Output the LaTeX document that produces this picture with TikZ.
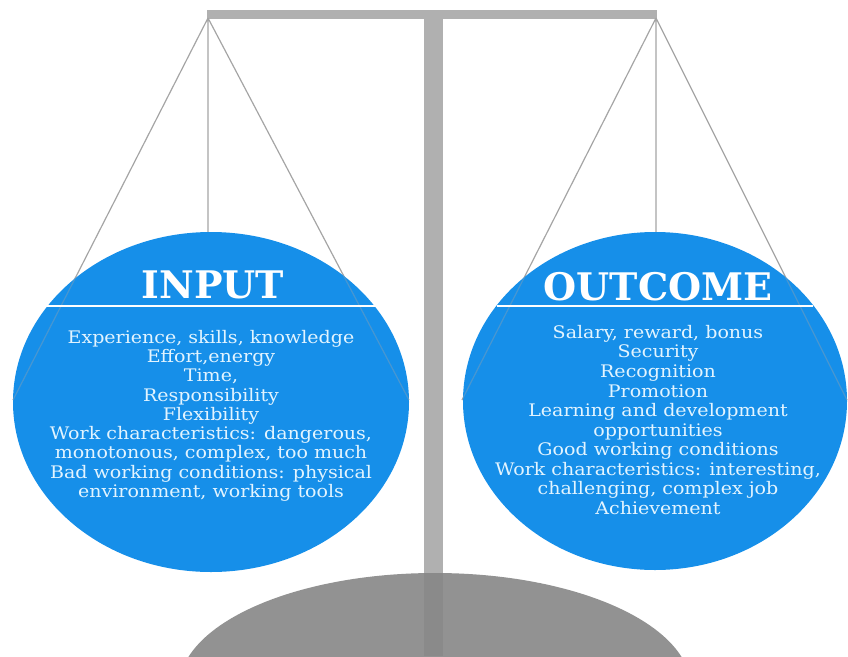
\documentclass[tikz,border=0pt]{standalone}
\usepackage{fontspec}
\setmainfont{DejaVu Serif}
\newfontfamily\bodyfont{DejaVu Serif}[FakeStretch=1.1]
\definecolor{panblue}{RGB}{22,143,233}
\definecolor{txtc}{RGB}{226,244,255}
\definecolor{postgray}{RGB}{134,134,134}
\definecolor{bargray}{RGB}{176,176,176}
\definecolor{basegray}{RGB}{146,146,146}
\definecolor{stringgray}{RGB}{165,165,165}
\tikzset{
  string/.style={draw=stringgray, line width=1.2pt},
  pan/.style={fill=panblue},
  heading/.style={text=white, font=\fontsize{38}{40}\selectfont\bfseries, inner sep=0pt, anchor=base},
  body/.style={text=txtc, font=\bodyfont\fontsize{17.3}{19}\selectfont, align=center, inner sep=0pt, anchor=north},
  divider/.style={draw=white, line width=2pt}
}
\begin{document}
\begin{tikzpicture}[x=1pt,y=-1pt]
\useasboundingbox (0,0) rectangle (848,656);
% base
\begin{scope}
\clip (0,0) rectangle (848,656);
\fill[basegray] (435,688) ellipse [x radius=256, y radius=115];
\end{scope}
% post
\fill[postgray, opacity=0.65] (424,10) rectangle (443,656);
% top bar
\fill[bargray] (207,10) rectangle (657,19);
% pivots and string ends
\coordinate (lp) at (208,18);
\coordinate (rp) at (656,18);
\coordinate (lL) at (13,400);
\coordinate (lR) at (409,400);
\coordinate (lT) at (208,233);
\coordinate (rL) at (462,400);
\coordinate (rR) at (847,400);
\coordinate (rT) at (656,233);
% strings
\draw[string] (lp) -- (lL) (lp) -- (lT) (lp) -- (lR);
\draw[string] (rp) -- (rL) (rp) -- (rT) (rp) -- (rR);
% pans
\fill[pan] (211,402) ellipse [x radius=198, y radius=170];
\fill[pan] (655,401) ellipse [x radius=192, y radius=169];
% faint strings over pans
\begin{scope}
\clip (211,402) ellipse [x radius=198, y radius=170];
\draw[string, opacity=0.35] (lp) -- (lL) (lp) -- (lR);
\end{scope}
\begin{scope}
\clip (655,401) ellipse [x radius=192, y radius=169];
\draw[string, opacity=0.35] (rp) -- (rL) (rp) -- (rR);
\end{scope}
% dividers
\draw[divider] (46,306) -- (376,306);
\draw[divider] (497,306) -- (813,306);
% headings
\node[heading] (inh) at (213,298) {INPUT};
\node[heading] (outh) at (658,300) {OUTCOME};
% body texts
\node[body, font=\bodyfont\fontsize{17.3}{19.25}\selectfont] (intext) at (211,330) {Experience, skills, knowledge\\Effort,energy\\Time,\\Responsibility\\Flexibility\\Work characteristics: dangerous,\\monotonous, complex, too much\\Bad working conditions: physical\\environment, working tools};
\node[body, font=\bodyfont\fontsize{17.3}{19.55}\selectfont] (outtext) at (658,325) {Salary, reward, bonus\\Security\\Recognition\\Promotion\\Learning and development\\opportunities\\Good working conditions\\Work characteristics: interesting,\\challenging, complex job\\Achievement};
\end{tikzpicture}
\end{document}
